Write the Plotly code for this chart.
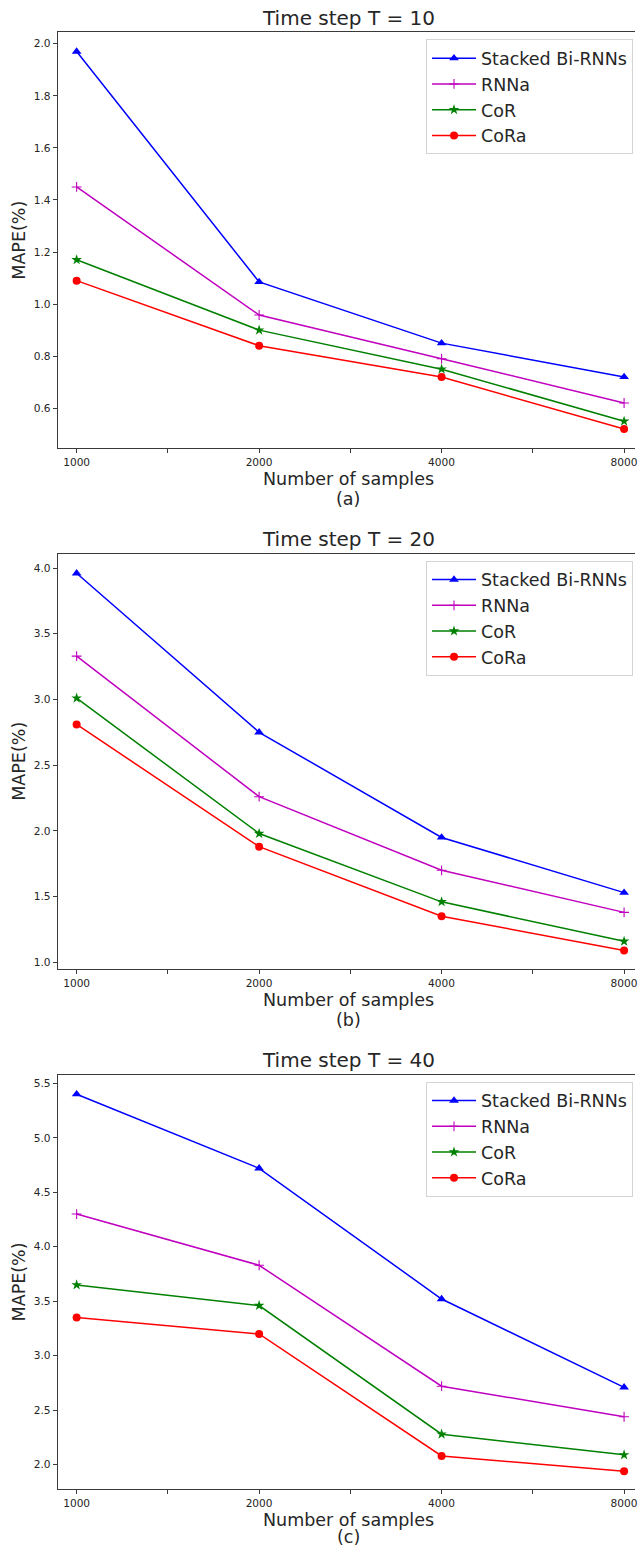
import math
import plotly.graph_objects as go

# ---- data -------------------------------------------------------------
samples = [1000, 2000, 4000, 8000]
sample_labels = ["1000", "2000", "4000", "8000"]
model_names = ["Stacked Bi-RNNs", "RNNa", "CoR", "CoRa"]
time_steps = [10, 20, 40]
panel_tags = ["(a)", "(b)", "(c)"]

t10_stacked = [1.97, 1.085, 0.85, 0.72]
t10_rnna = [1.45, 0.958, 0.79, 0.62]
t10_cor = [1.17, 0.90, 0.75, 0.55]
t10_cora = [1.09, 0.84, 0.72, 0.52]

t20_stacked = [3.96, 2.75, 1.95, 1.53]
t20_rnna = [3.33, 2.26, 1.70, 1.38]
t20_cor = [3.01, 1.98, 1.46, 1.16]
t20_cora = [2.81, 1.88, 1.35, 1.09]

t40_stacked = [5.40, 4.72, 3.52, 2.71]
t40_rnna = [4.30, 3.83, 2.72, 2.44]
t40_cor = [3.65, 3.46, 2.28, 2.09]
t40_cora = [3.35, 3.20, 2.08, 1.94]

t10_yticks = [0.6, 0.8, 1.0, 1.2, 1.4, 1.6, 1.8, 2.0]
t20_yticks = [1.0, 1.5, 2.0, 2.5, 3.0, 3.5, 4.0]
t40_yticks = [2.0, 2.5, 3.0, 3.5, 4.0, 4.5, 5.0, 5.5]

panels = [
    (t10_stacked, t10_rnna, t10_cor, t10_cora),
    (t20_stacked, t20_rnna, t20_cor, t20_cora),
    (t40_stacked, t40_rnna, t40_cor, t40_cora),
]
panel_yticks = [t10_yticks, t20_yticks, t40_yticks]

# ---- styling / layout ------------------------------------------------
W, H = 638, 1549
FONT = "DejaVu Sans"
AXIS_COLOR = "#3a3a3a"
TEXT_COLOR = "#262626"

colors = ["#0000ff", "#bf00bf", "#008000", "#ff0000"]
symbols = ["triangle-up", "cross-thin", "star", "circle"]
msizes = [8.5, 7, 8, 8]

# axes boxes in pixels (top, bottom)
boxes = [(32.3, 448.3), (553.7, 969.0), (1074.7, 1489.3)]
y_ranges = [[0.446, 2.044], [0.949, 4.109], [1.774, 5.579]]
ax_left = 58
x_log_range = [2.9688, 3.9211]

# major ticks at each sample size, unlabeled ticks halfway between (log scale)
x_tickvals = []
x_ticktext = []
for i, s in enumerate(samples):
    x_tickvals.append(s)
    x_ticktext.append(sample_labels[i])
    if i + 1 < len(samples):
        x_tickvals.append(math.sqrt(s * samples[i + 1]))
        x_ticktext.append("")

fig = go.Figure()
annotations = []
layout = dict(
    width=W, height=H,
    margin=dict(l=0, r=0, t=0, b=0),
    paper_bgcolor="white", plot_bgcolor="white",
    font=dict(family=FONT, color=TEXT_COLOR),
    showlegend=True,
)

for p, series in enumerate(panels):
    idx = "" if p == 0 else str(p + 1)
    top, bottom = boxes[p]
    dom_y = [1 - bottom / H, 1 - top / H]
    legend_name = "legend" if p == 0 else f"legend{p + 1}"

    for k, vals in enumerate(series):
        fig.add_trace(go.Scatter(
            x=samples, y=vals, mode="lines+markers",
            name=model_names[k],
            line=dict(color=colors[k], width=1.5),
            marker=dict(symbol=symbols[k], size=msizes[k], color=colors[k],
                        line=dict(color=colors[k], width=1.1 if k == 1 else 0)),
            xaxis="x" + idx, yaxis="y" + idx,
            legend=legend_name,
        ))

    layout["xaxis" + idx] = dict(
        type="log", range=x_log_range, domain=[ax_left / W, 1],
        anchor="y" + idx,
        tickvals=x_tickvals, ticktext=x_ticktext,
        ticklabeloverflow="allow",
        ticks="outside", ticklen=4, tickwidth=1, tickcolor=AXIS_COLOR,
        tickfont=dict(size=10.6, color=TEXT_COLOR, family=FONT),
        showline=True, linecolor=AXIS_COLOR, linewidth=1, mirror=True,
        showgrid=False, zeroline=False,
    )
    layout["yaxis" + idx] = dict(
        range=y_ranges[p], domain=dom_y, anchor="x" + idx,
        tickvals=panel_yticks[p], tickformat=".1f",
        ticks="outside", ticklen=4, tickwidth=1, tickcolor=AXIS_COLOR,
        tickfont=dict(size=10.6, color=TEXT_COLOR, family=FONT),
        showline=True, linecolor=AXIS_COLOR, linewidth=1,
        showgrid=False, zeroline=False,
    )
    layout[legend_name] = dict(
        x=636 / W, xanchor="right",
        y=1 - (top + 7) / H, yanchor="top",
        bgcolor="rgba(255,255,255,0.85)",
        bordercolor="#d4d4d4", borderwidth=1,
        font=dict(family=FONT, size=17.5, color=TEXT_COLOR),
        itemwidth=44,
    )

    cx = 350 / W
    annotations.append(dict(
        text=f"Time step T = {time_steps[p]}", x=cx, y=1 - (top - 14.5) / H,
        xref="paper", yref="paper", xanchor="center", yanchor="middle",
        showarrow=False, font=dict(family=FONT, size=20, color=TEXT_COLOR),
    ))
    annotations.append(dict(
        text="Number of samples", x=cx, y=1 - (bottom + 31) / H,
        xref="paper", yref="paper", xanchor="center", yanchor="middle",
        showarrow=False, font=dict(family=FONT, size=17.5, color=TEXT_COLOR),
    ))
    tag_bottom = min(bottom + 63, H)
    annotations.append(dict(
        text=panel_tags[p], x=cx, y=1 - tag_bottom / H,
        xref="paper", yref="paper", xanchor="center", yanchor="bottom",
        showarrow=False, font=dict(family=FONT, size=17.5, color=TEXT_COLOR),
    ))
    annotations.append(dict(
        text="MAPE(%)", x=19.5 / W, y=1 - ((top + bottom) / 2) / H,
        xref="paper", yref="paper", xanchor="center", yanchor="middle",
        textangle=-90,
        showarrow=False, font=dict(family=FONT, size=17.5, color=TEXT_COLOR),
    ))

layout["annotations"] = annotations
fig.update_layout(**layout)
fig.write_html("out.html")
